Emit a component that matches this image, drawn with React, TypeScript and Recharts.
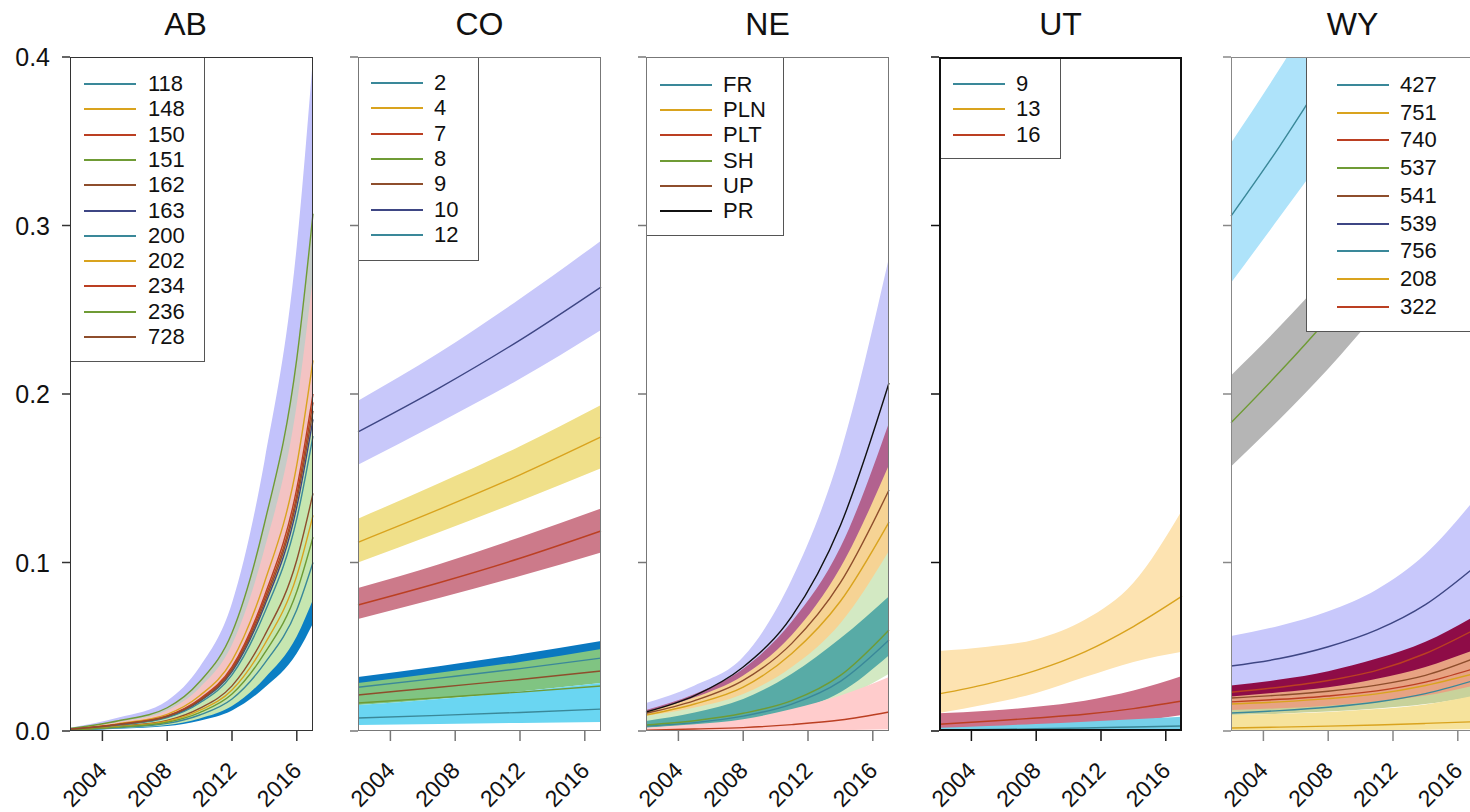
import React from 'react';
import { ComposedChart, Area, Line, XAxis, YAxis } from 'recharts';

const FONT = "'Liberation Sans', Arial, Helvetica, sans-serif";

// ---------- AB ----------
const AB_YEARS = [2002, 2005, 2008, 2010, 2012, 2014, 2016, 2017];
const AB_LABELS = ['118', '148', '150', '151', '162', '163', '200', '202', '234', '236', '728'];
const AB_LINES = [
  [0.0005, 0.002, 0.0045, 0.0095, 0.019, 0.04, 0.072, 0.1],
  [0.0011, 0.0044, 0.0099, 0.0209, 0.0418, 0.088, 0.158, 0.22],
  [0.001, 0.0039, 0.0088, 0.0185, 0.037, 0.078, 0.14, 0.195],
  [0.0015, 0.0061, 0.0138, 0.0292, 0.0583, 0.123, 0.221, 0.307],
  [0.0007, 0.0028, 0.0063, 0.0134, 0.0268, 0.0564, 0.1015, 0.141],
  [0.0009, 0.0037, 0.0083, 0.0176, 0.0352, 0.074, 0.133, 0.185],
  [0.0009, 0.0035, 0.0079, 0.0166, 0.0333, 0.07, 0.126, 0.175],
  [0.0006, 0.0026, 0.0058, 0.0122, 0.0243, 0.0512, 0.0922, 0.128],
  [0.001, 0.004, 0.009, 0.019, 0.038, 0.08, 0.144, 0.2],
  [0.0006, 0.0023, 0.0052, 0.0109, 0.0219, 0.046, 0.0828, 0.115],
  [0.00095, 0.0038, 0.0086, 0.018, 0.0361, 0.076, 0.137, 0.19],
];
const AB_BAND_OF = ['163', '151', '150', '118', '236'];
const AB_BAND_LO = [
  [0.0005, 0.002, 0.0045, 0.0095, 0.019, 0.04, 0.072, 0.1],
  [0.0006, 0.0024, 0.0054, 0.0114, 0.0228, 0.048, 0.0864, 0.12],
  [0.00055, 0.0022, 0.005, 0.0105, 0.0209, 0.044, 0.0792, 0.11],
  [0.0003, 0.0013, 0.0029, 0.0061, 0.0122, 0.0256, 0.0461, 0.064],
  [0.0004, 0.0016, 0.0035, 0.0074, 0.0148, 0.0312, 0.0562, 0.078],
];
const AB_BAND_HI = [
  [0.002, 0.008, 0.018, 0.038, 0.076, 0.16, 0.288, 0.4],
  [0.0015, 0.0061, 0.0138, 0.0292, 0.0583, 0.123, 0.221, 0.307],
  [0.00135, 0.0054, 0.0122, 0.0257, 0.0513, 0.108, 0.194, 0.27],
  [0.0006, 0.0024, 0.0054, 0.0114, 0.0228, 0.048, 0.0864, 0.12],
  [0.001, 0.004, 0.009, 0.019, 0.038, 0.08, 0.144, 0.2],
];

// ---------- CO ----------
const CO_YEARS = [2002, 2007, 2012, 2017];
const CO_LABELS = ['2', '4', '7', '8', '9', '10', '12'];
const CO_LINES = [
  [0.0077, 0.0093, 0.011, 0.013],
  [0.112, 0.1315, 0.152, 0.1745],
  [0.0748, 0.088, 0.1025, 0.1187],
  [0.0166, 0.0198, 0.0231, 0.0267],
  [0.0214, 0.026, 0.0306, 0.0356],
  [0.1775, 0.2035, 0.232, 0.2635],
  [0.026, 0.0314, 0.037, 0.0433],
];
const CO_BAND_OF = ['10', '4', '7', '12', '9', '2'];
const CO_BAND_LO = [
  [0.158, 0.183, 0.209, 0.238],
  [0.1, 0.118, 0.1365, 0.156],
  [0.0665, 0.079, 0.092, 0.106],
  [0.02, 0.024, 0.029, 0.034],
  [0.0154, 0.019, 0.0235, 0.0285],
  [0.0036, 0.0042, 0.0048, 0.0053],
];
const CO_BAND_HI = [
  [0.196, 0.2245, 0.2565, 0.291],
  [0.126, 0.147, 0.169, 0.1935],
  [0.0849, 0.099, 0.115, 0.132],
  [0.032, 0.0385, 0.0455, 0.0534],
  [0.0285, 0.0345, 0.041, 0.0487],
  [0.0154, 0.019, 0.0235, 0.0285],
];

// ---------- NE ----------
const NE_YEARS = [2002, 2005, 2008, 2011, 2014, 2017];
const NE_LABELS = ['FR', 'PLN', 'PLT', 'SH', 'UP', 'PR'];
const NE_LINES = [
  [0.003, 0.005, 0.0088, 0.016, 0.0295, 0.054],
  [0.0095, 0.016, 0.026, 0.046, 0.077, 0.124],
  [0.0005, 0.0012, 0.002, 0.0038, 0.0065, 0.0113],
  [0.0036, 0.0061, 0.0105, 0.018, 0.033, 0.06],
  [0.0105, 0.018, 0.03, 0.052, 0.088, 0.143],
  [0.0113, 0.021, 0.038, 0.068, 0.122, 0.2065],
];
const NE_BAND_OF = ['PR', 'UP', 'PLN', 'SH', 'FR', 'PLT'];
const NE_BAND_LO = [
  [0.008, 0.015, 0.028, 0.05, 0.088, 0.15],
  [0.008, 0.013, 0.021, 0.037, 0.067, 0.12],
  [0.007, 0.012, 0.02, 0.035, 0.06, 0.1],
  [0.002, 0.004, 0.006, 0.011, 0.019, 0.034],
  [0.002, 0.0035, 0.0063, 0.0118, 0.023, 0.045],
  [0, 0, 0, 0.0003, 0.0005, 0.001],
];
const NE_BAND_HI = [
  [0.0166, 0.027, 0.044, 0.09, 0.165, 0.281],
  [0.0125, 0.022, 0.037, 0.065, 0.109, 0.183],
  [0.0115, 0.02, 0.033, 0.057, 0.097, 0.158],
  [0.009, 0.014, 0.022, 0.038, 0.064, 0.107],
  [0.006, 0.011, 0.019, 0.034, 0.055, 0.08],
  [0.002, 0.004, 0.007, 0.013, 0.021, 0.032],
];

// ---------- UT ----------
const UT_YEARS = [2002, 2005, 2008, 2011, 2014, 2017];
const UT_LABELS = ['9', '13', '16'];
const UT_LINES = [
  [0.0005, 0.0009, 0.0013, 0.0018, 0.0024, 0.003],
  [0.022, 0.028, 0.036, 0.047, 0.062, 0.08],
  [0.004, 0.0058, 0.0077, 0.0099, 0.0133, 0.0178],
];
const UT_BAND_OF = ['13', '16', '9'];
const UT_BAND_LO = [
  [0.0107, 0.016, 0.0225, 0.032, 0.041, 0.047],
  [0.0006, 0.0015, 0.0025, 0.0038, 0.0058, 0.0095],
  [0, 0, 0, 0, 0, 0.0002],
];
const UT_BAND_HI = [
  [0.0475, 0.05, 0.0545, 0.066, 0.088, 0.131],
  [0.0105, 0.012, 0.0144, 0.018, 0.024, 0.0327],
  [0.002, 0.003, 0.0042, 0.0055, 0.007, 0.0085],
];

// ---------- WY ----------
const WY_YEARS = [2002, 2005, 2008, 2011, 2014, 2017];
const WY_LABELS = ['427', '751', '740', '537', '541', '539', '756', '208', '322'];
const WY_LINES = [
  [0.3056, 0.347, 0.392, 0.44, 0.49, 0.55],
  [0.016, 0.0173, 0.0192, 0.022, 0.027, 0.034],
  [0.023, 0.026, 0.03, 0.036, 0.046, 0.06],
  [0.183, 0.213, 0.245, 0.28, 0.318, 0.36],
  [0.0196, 0.0213, 0.0236, 0.0272, 0.033, 0.043],
  [0.0386, 0.043, 0.05, 0.06, 0.075, 0.097],
  [0.0107, 0.0121, 0.0141, 0.0172, 0.0222, 0.03],
  [0.0018, 0.0023, 0.0029, 0.0036, 0.0045, 0.0055],
  [0.0173, 0.0188, 0.0208, 0.0238, 0.029, 0.037],
];
const WY_BAND_OF = ['427', '537', '539', '756', '541', '740', '208'];
const WY_BAND_LO = [
  [0.266, 0.305, 0.345, 0.39, 0.43, 0.48],
  [0.157, 0.185, 0.215, 0.248, 0.283, 0.32],
  [0.026, 0.029, 0.033, 0.039, 0.048, 0.062],
  [0.0095, 0.0103, 0.0115, 0.0133, 0.016, 0.0205],
  [0.0125, 0.0135, 0.015, 0.0175, 0.021, 0.027],
  [0.0205, 0.023, 0.026, 0.031, 0.038, 0.048],
  [0, 0.0001, 0.0002, 0.0004, 0.0007, 0.001],
];
const WY_BAND_HI = [
  [0.349, 0.393, 0.44, 0.49, 0.54, 0.6],
  [0.211, 0.24, 0.272, 0.31, 0.35, 0.395],
  [0.0564, 0.0625, 0.071, 0.084, 0.105, 0.137],
  [0.016, 0.0175, 0.0198, 0.0232, 0.028, 0.034],
  [0.0225, 0.025, 0.0285, 0.034, 0.042, 0.054],
  [0.027, 0.0305, 0.0355, 0.043, 0.053, 0.068],
  [0.0095, 0.0102, 0.0113, 0.013, 0.0158, 0.021],
];

const X_TICKS = [2004, 2008, 2012, 2016];
const Y_TICKS = [0, 0.1, 0.2, 0.3, 0.4];

// line colours cycle: teal, gold, red, green, brown, navy
const C = {
  teal: '#3a8899',
  gold: '#d9a31e',
  red: '#bb3f22',
  green: '#6f9b35',
  brown: '#8e4e2c',
  navy: '#3e4684',
  black: '#111111',
};
const CYCLE = [C.teal, C.gold, C.red, C.green, C.brown, C.navy];
const cycleColors = (n: number) => Array.from({ length: n }, (_, i) => CYCLE[i % CYCLE.length]);

const PLOT_W = 243;
const PLOT_TOP = 57;
const PLOT_H = 674;
const Y_AXIS_W = 60;

type Legend = { left: number; w: number; h: number; firstY: number; step: number; lineX: number; textX: number };

type PanelProps = {
  title: string;
  titleShift?: number;
  plotLeft: number;
  years: number[];
  labels: string[];
  lines: number[][];
  bandOf: string[];
  bandLo: number[][];
  bandHi: number[][];
  bandFills: string[];
  lineColors: string[];
  frame: string;
  frameW: number;
  showY: boolean;
  legend: Legend;
};

function buildRows(years: number[], lines: number[][], lo: number[][], hi: number[][]) {
  return years.map((year, i) => {
    const row: Record<string, any> = { year };
    lines.forEach((s, k) => {
      row['l' + k] = s[i];
    });
    lo.forEach((s, k) => {
      row['b' + k] = [s[i], hi[k][i]];
    });
    return row;
  });
}

const XTick = (props: any) => {
  const { x, y, payload } = props;
  const ax = x + 6;
  const ay = y + 29;
  return (
    <text x={ax} y={ay} transform={`rotate(-45 ${ax} ${ay})`} textAnchor="end" fontSize={23} fontFamily={FONT} fill="#111">
      {payload.value}
    </text>
  );
};

const YTick = (props: any) => {
  const { x, y, payload } = props;
  return (
    <text x={x - 10} y={y + 9} textAnchor="end" fontSize={25} fontFamily={FONT} fill="#111">
      {payload.value.toFixed(1)}
    </text>
  );
};

const NoTick = () => <g />;

function Panel(p: PanelProps) {
  const rows = buildRows(p.years, p.lines, p.bandLo, p.bandHi);
  const lg = p.legend;
  return (
    <div style={{ position: 'absolute', left: p.plotLeft - Y_AXIS_W, top: 0, width: Y_AXIS_W + PLOT_W + 10, height: 812 }}>
      <ComposedChart
        width={Y_AXIS_W + PLOT_W + 10}
        height={812}
        data={rows}
        margin={{ top: PLOT_TOP, right: 10, bottom: 21, left: 0 }}
      >
        <XAxis
          dataKey="year"
          type="number"
          domain={[2002, 2017]}
          ticks={X_TICKS}
          interval={0}
          height={60}
          axisLine={false}
          tickSize={10}
          tickLine={{ stroke: p.frame, strokeWidth: 1.5 }}
          tick={XTick}
        />
        <YAxis
          type="number"
          domain={[0, 0.4]}
          ticks={Y_TICKS}
          allowDataOverflow
          interval={0}
          width={Y_AXIS_W}
          axisLine={false}
          tickSize={8}
          tickLine={{ stroke: p.frame, strokeWidth: 1.5 }}
          tick={p.showY ? YTick : NoTick}
        />
        {p.bandOf.map((name, k) => (
          <Area
            key={'b' + name}
            type="monotone"
            dataKey={'b' + k}
            stroke="none"
            fill={p.bandFills[k]}
            fillOpacity={1}
            dot={false}
            activeDot={false}
            isAnimationActive={false}
          />
        ))}
        {p.labels.map((name, k) => (
          <Line
            key={'l' + name}
            type="monotone"
            dataKey={'l' + k}
            stroke={p.lineColors[k]}
            strokeWidth={1.4}
            dot={false}
            activeDot={false}
            isAnimationActive={false}
          />
        ))}
      </ComposedChart>

      <div
        style={{
          position: 'absolute',
          left: Y_AXIS_W + lg.left,
          top: PLOT_TOP,
          width: lg.w,
          height: lg.h,
          boxSizing: 'border-box',
          background: '#fff',
          border: '1px solid #555',
        }}
      >
        {p.labels.map((name, k) => {
          const cy = lg.firstY - PLOT_TOP + k * lg.step;
          return (
            <React.Fragment key={name}>
              <div style={{ position: 'absolute', left: lg.lineX, top: cy - 1, width: 52, height: 2, background: p.lineColors[k] }} />
              <div
                style={{
                  position: 'absolute',
                  left: lg.textX,
                  top: cy - 11,
                  fontSize: 22,
                  lineHeight: '22px',
                  fontFamily: FONT,
                  color: '#111',
                  whiteSpace: 'nowrap',
                }}
              >
                {name}
              </div>
            </React.Fragment>
          );
        })}
      </div>

      <div
        style={{
          position: 'absolute',
          left: Y_AXIS_W,
          top: PLOT_TOP,
          width: PLOT_W,
          height: PLOT_H,
          boxSizing: 'border-box',
          border: `${p.frameW}px solid ${p.frame}`,
          pointerEvents: 'none',
        }}
      />

      <div
        style={{
          position: 'absolute',
          left: Y_AXIS_W + (p.titleShift || 0),
          top: 8,
          width: PLOT_W,
          textAlign: 'center',
          fontSize: 32,
          lineHeight: '32px',
          fontFamily: FONT,
          color: '#111',
        }}
      >
        {p.title}
      </div>
    </div>
  );
}

export default function App() {
  return (
    <div style={{ position: 'absolute', left: 0, top: 0, width: 1470, height: 812, overflow: 'hidden', background: '#fff' }}>
      <Panel
        title="AB"
        titleShift={-6}
        plotLeft={70}
        years={AB_YEARS}
        labels={AB_LABELS}
        lines={AB_LINES}
        bandOf={AB_BAND_OF}
        bandLo={AB_BAND_LO}
        bandHi={AB_BAND_HI}
        bandFills={['#c2c2fb', '#c5ccc8', '#f3c3c3', '#0b7fc4', '#c6e6b0']}
        lineColors={cycleColors(AB_LABELS.length)}
        frame="#333"
        frameW={1.5}
        showY
        legend={{ left: 0, w: 135, h: 305, firstY: 83, step: 25.3, lineX: 13, textX: 77 }}
      />
      <Panel
        title="CO"
        plotLeft={358}
        years={CO_YEARS}
        labels={CO_LABELS}
        lines={CO_LINES}
        bandOf={CO_BAND_OF}
        bandLo={CO_BAND_LO}
        bandHi={CO_BAND_HI}
        bandFills={['#c8c8fa', '#f0e08a', '#cc7a8a', '#0a78c0', '#80c482', '#6ad6f2']}
        lineColors={cycleColors(CO_LABELS.length)}
        frame="#777"
        frameW={1.5}
        showY={false}
        legend={{ left: 0, w: 121, h: 204, firstY: 82, step: 25.3, lineX: 12, textX: 75 }}
      />
      <Panel
        title="NE"
        plotLeft={646}
        years={NE_YEARS}
        labels={NE_LABELS}
        lines={NE_LINES}
        bandOf={NE_BAND_OF}
        bandLo={NE_BAND_LO}
        bandHi={NE_BAND_HI}
        bandFills={['#c9c9fa', '#b2628f', '#f6d394', '#d3e9c3', '#58aba6', '#ffcccc']}
        lineColors={[C.teal, C.gold, C.red, C.green, C.brown, C.black]}
        frame="#777"
        frameW={1.5}
        showY={false}
        legend={{ left: 0, w: 138, h: 179, firstY: 84, step: 25.2, lineX: 13, textX: 76 }}
      />
      <Panel
        title="UT"
        plotLeft={939}
        years={UT_YEARS}
        labels={UT_LABELS}
        lines={UT_LINES}
        bandOf={UT_BAND_OF}
        bandLo={UT_BAND_LO}
        bandHi={UT_BAND_HI}
        bandFills={['#fde3b1', '#cc7189', '#76d1ea']}
        lineColors={cycleColors(UT_LABELS.length)}
        frame="#111"
        frameW={2.5}
        showY={false}
        legend={{ left: 0, w: 122, h: 102, firstY: 83, step: 25.3, lineX: 13, textX: 76 }}
      />
      <Panel
        title="WY"
        plotLeft={1231}
        years={WY_YEARS}
        labels={WY_LABELS}
        lines={WY_LINES}
        bandOf={WY_BAND_OF}
        bandLo={WY_BAND_LO}
        bandHi={WY_BAND_HI}
        bandFills={['#aee3fa', '#b5b5b5', '#c8c8fb', '#c8d29b', '#e7a383', '#8e0c47', '#f6e39c']}
        lineColors={cycleColors(WY_LABELS.length)}
        frame="#888"
        frameW={1.5}
        showY={false}
        legend={{ left: 75, w: 200, h: 275, firstY: 84, step: 27.7, lineX: 30, textX: 93 }}
      />
    </div>
  );
}
